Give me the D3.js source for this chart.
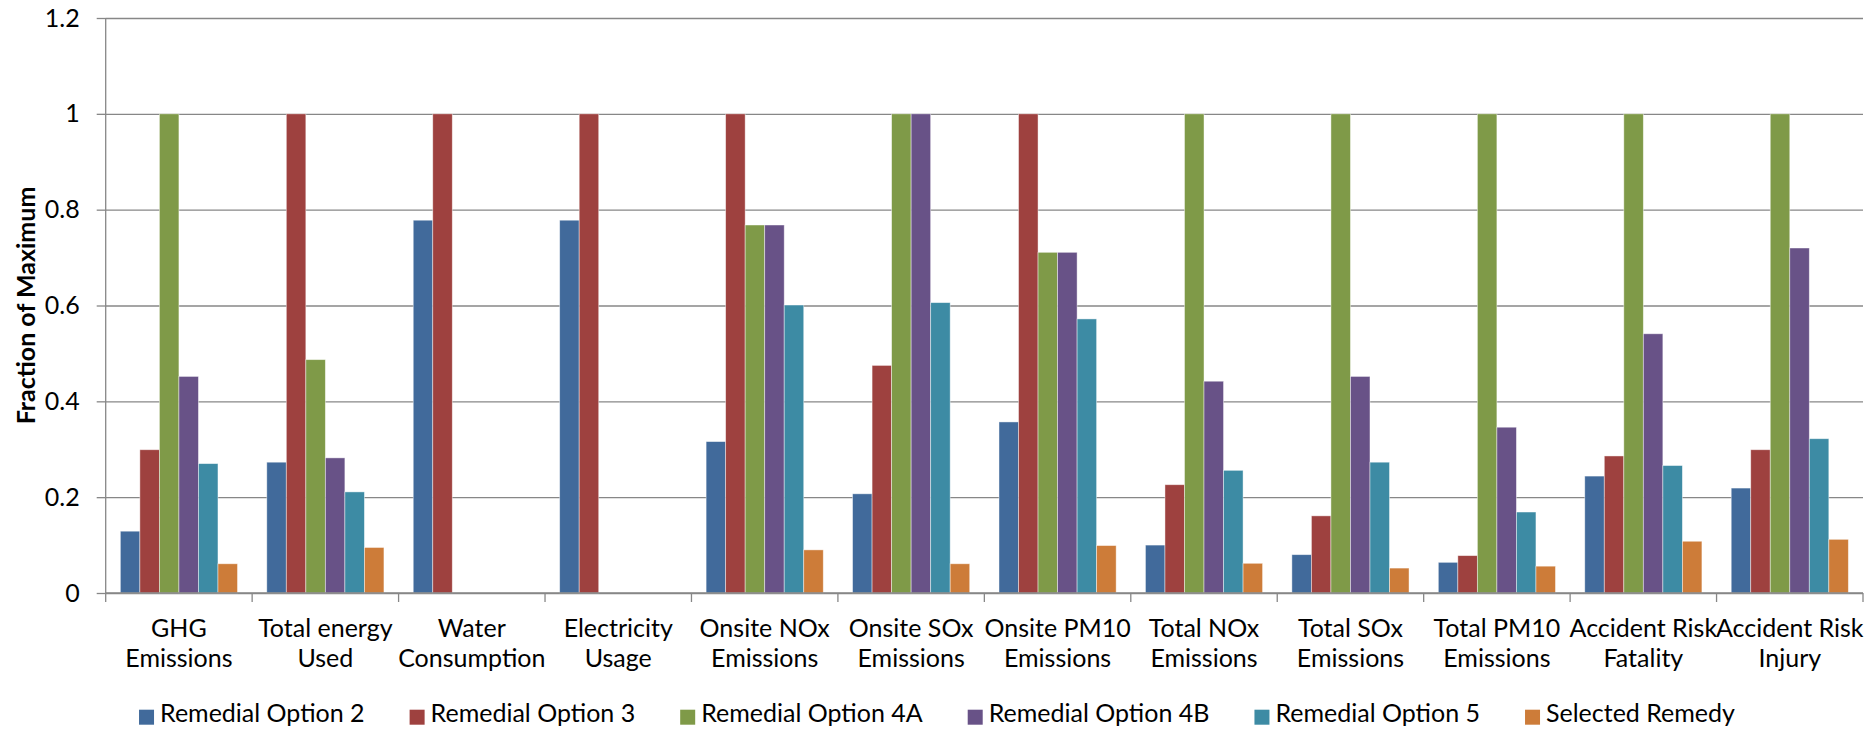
<!DOCTYPE html>
<html>
<head>
<meta charset="utf-8">
<script src="https://cdn.jsdelivr.net/npm/d3@7/dist/d3.min.js"></script>
<style>
  html, body { margin: 0; padding: 0; background: #fff; }
  svg { display: block; }
  text { font-family: Lato, "Open Sans", sans-serif; fill: #000; }
</style>
</head>
<body>
<svg id="chart" width="1868" height="731"></svg>
<script>
// Impact categories along the x axis (each label drawn on two lines)
const categories = [
  "GHG Emissions", "Total energy Used", "Water Consumption", "Electricity Usage",
  "Onsite NOx Emissions", "Onsite SOx Emissions", "Onsite PM10 Emissions",
  "Total NOx Emissions", "Total SOx Emissions", "Total PM10 Emissions",
  "Accident Risk Fatality", "Accident Risk Injury"
];
const categoryLines = [
  ["GHG", "Emissions"], ["Total energy", "Used"], ["Water", "Consumption"],
  ["Electricity", "Usage"], ["Onsite NOx", "Emissions"], ["Onsite SOx", "Emissions"],
  ["Onsite PM10", "Emissions"], ["Total NOx", "Emissions"], ["Total SOx", "Emissions"],
  ["Total PM10", "Emissions"], ["Accident Risk", "Fatality"], ["Accident Risk", "Injury"]
];

const seriesNames = [
  "Remedial Option 2", "Remedial Option 3", "Remedial Option 4A",
  "Remedial Option 4B", "Remedial Option 5", "Selected Remedy"
];
const seriesColors = ["#416A9B", "#9E413F", "#7F9A48", "#685287", "#3D8BA4", "#CD7C39"];

// Fraction of maximum, one value per category
const option2  = [0.129, 0.273, 0.778, 0.778, 0.316, 0.207, 0.357, 0.100, 0.080, 0.064, 0.244, 0.219];
const option3  = [0.299, 1.000, 1.000, 1.000, 1.000, 0.475, 1.000, 0.226, 0.161, 0.078, 0.286, 0.299];
const option4A = [1.000, 0.487, 0.000, 0.000, 0.768, 1.000, 0.711, 1.000, 1.000, 1.000, 1.000, 1.000];
const option4B = [0.452, 0.282, 0.000, 0.000, 0.768, 1.000, 0.711, 0.442, 0.452, 0.346, 0.541, 0.720];
const option5  = [0.270, 0.211, 0.000, 0.000, 0.601, 0.606, 0.572, 0.256, 0.273, 0.169, 0.266, 0.322];
const selected = [0.061, 0.095, 0.000, 0.000, 0.090, 0.061, 0.099, 0.062, 0.052, 0.056, 0.108, 0.112];
const seriesValues = [option2, option3, option4A, option4B, option5, selected];

const yTickValues = [0, 0.2, 0.4, 0.6, 0.8, 1.0, 1.2];
const yTickLabels = ["0", "0.2", "0.4", "0.6", "0.8", "1", "1.2"];
const yTitle = "Fraction of Maximum";

const svg = d3.select("#chart");
const plot = { left: 105.7, right: 1863, top: 18, bottom: 593 };
const gridColor = "#878787";
const fontSize = 25;

const x0 = d3.scaleBand().domain(categories).range([plot.left, plot.right]).padding(0);
const x1 = d3.scaleBand().domain(seriesNames).range([0, x0.bandwidth()])
  .paddingInner(0).paddingOuter(0.75);
const y = d3.scaleLinear().domain([0, 1.2]).range([plot.bottom, plot.top]);

// Horizontal gridlines with the left axis and its outward ticks
const yAxis = d3.axisLeft(y)
  .tickValues(yTickValues)
  .tickFormat((d, i) => yTickLabels[i])
  .tickSize(9)
  .tickPadding(17);
const gy = svg.append("g").attr("transform", `translate(${plot.left},0)`).call(yAxis);
gy.select(".domain").remove();
gy.selectAll(".tick line").attr("stroke", gridColor).attr("stroke-width", 1.3);
gy.selectAll(".tick").append("line")
  .attr("x1", 0).attr("x2", plot.right - plot.left)
  .attr("stroke", gridColor).attr("stroke-width", 1.3);
gy.selectAll(".tick text")
  .attr("font-family", "Lato, sans-serif")
  .attr("font-size", fontSize)
  .attr("fill", "#000");

// Bars
const groups = svg.append("g").selectAll("g")
  .data(categories)
  .join("g")
  .attr("transform", d => `translate(${x0(d)},0)`);

groups.selectAll("rect")
  .data((c, ci) => seriesNames.map((s, si) => ({ s, v: seriesValues[si][ci], color: seriesColors[si] })))
  .join("rect")
  .filter(d => d.v > 0)
  .attr("x", d => x1(d.s))
  .attr("width", x1.bandwidth())
  .attr("y", d => y(d.v))
  .attr("height", d => y(0) - y(d.v))
  .attr("fill", d => d.color)
  .attr("stroke", "rgba(255,255,255,0.55)")
  .attr("stroke-width", 0.8);

// Category axis with ticks between categories
const gx = svg.append("g").attr("transform", `translate(0,${plot.bottom})`);
gx.append("line")
  .attr("x1", plot.left).attr("x2", plot.right)
  .attr("stroke", gridColor).attr("stroke-width", 1.3);
gx.append("line")
  .attr("x1", plot.left).attr("x2", plot.left).attr("y1", -(plot.bottom - plot.top)).attr("y2", 9)
  .attr("stroke", gridColor).attr("stroke-width", 1.3);
gx.selectAll("line.sep")
  .data(categories)
  .join("line")
  .attr("class", "sep")
  .attr("x1", d => x0(d) + x0.bandwidth())
  .attr("x2", d => x0(d) + x0.bandwidth())
  .attr("y1", 0).attr("y2", 9)
  .attr("stroke", gridColor).attr("stroke-width", 1.3);

const labels = gx.selectAll("text.cat")
  .data(categories)
  .join("text")
  .attr("class", "cat")
  .attr("text-anchor", "middle")
  .attr("font-size", fontSize)
  .attr("transform", d => `translate(${x0(d) + x0.bandwidth() / 2},0)`);
labels.selectAll("tspan")
  .data((d, i) => categoryLines[i])
  .join("tspan")
  .attr("x", 0)
  .attr("y", (d, i) => 43.7 + i * 30.6)
  .text(d => d);

// Y axis title
svg.append("text")
  .attr("transform", `translate(35,${(plot.top + plot.bottom) / 2}) rotate(-90)`)
  .attr("text-anchor", "middle")
  .attr("font-size", fontSize)
  .attr("font-weight", "bold")
  .text(yTitle);

// Legend, centred under the chart
const legend = svg.append("g").attr("transform", "translate(0,721.7)");
const items = legend.selectAll("g").data(seriesNames).join("g");
items.append("rect")
  .attr("y", -12).attr("width", 15).attr("height", 15)
  .attr("fill", (d, i) => seriesColors[i]);
items.append("text")
  .attr("x", 21)
  .attr("font-size", fontSize)
  .text(d => d);
const itemGap = 45;
let widths = [];
items.each(function () { widths.push(this.querySelector("text").getComputedTextLength() + 21); });
const total = d3.sum(widths) + itemGap * (widths.length - 1);
let cursor = (1868 - total) / 2 + 3;
items.attr("transform", (d, i) => {
  const tx = cursor;
  cursor += widths[i] + itemGap;
  return `translate(${tx},0)`;
});
</script>
</body>
</html>
